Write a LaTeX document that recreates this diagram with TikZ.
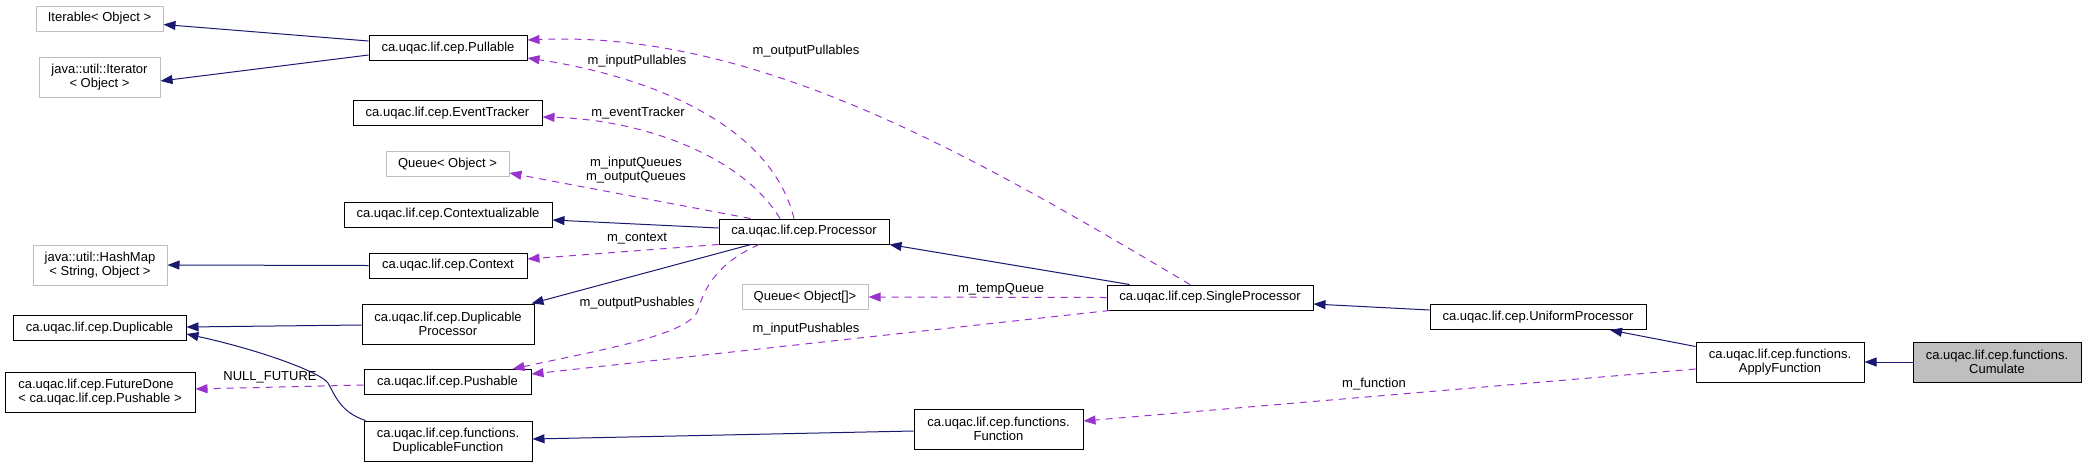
\documentclass[tikz,border=0pt]{standalone}
\usepackage{fontspec}
\setmainfont{Liberation Sans}
\usetikzlibrary{arrows.meta,calc}

\definecolor{edgeblue}{HTML}{191970}
\definecolor{edgepurple}{HTML}{9A32CD}
\definecolor{boxgray}{HTML}{BFBFBF}

\tikzset{
  cls/.style={draw=black, line width=1pt, inner sep=0pt, align=center,
    font=\fontsize{13}{14}\selectfont},
  ext/.style={cls, draw=boxgray},
  cur/.style={cls, fill=boxgray},
  sz/.style 2 args={minimum width=#1pt, minimum height=#2pt},
  lbl/.style={inner sep=0pt, align=center, font=\fontsize{13}{13.5}\selectfont},
  inh/.style={->, draw=edgeblue, line width=1pt},
  use/.style={->, draw=edgepurple, line width=1pt, dash pattern=on 7pt off 6pt}
}

\begin{document}
\begin{tikzpicture}[x=1pt, y=-1pt, >={Triangle[length=12pt,width=9pt]}]
\useasboundingbox (0,0) rectangle (2087,467);

% left column
\node[ext,sz={127}{25}] (Iterable)   at (99.5,18.5) {Iterable< Object >};
\node[ext,sz={121}{40}] (Iterator)   at (99.5,77)   {java::util::Iterator\\< Object >};
\node[ext,sz={134}{40}] (HashMap)    at (100,265)   {java::util::HashMap\\< String, Object >};
\node[cls,sz={173}{25}] (Duplicable) at (99.5,328)  {ca.uqac.lif.cep.Duplicable};
\node[cls,sz={190}{40},align=left] (FutureDone) at (100,392) {ca.uqac.lif.cep.FutureDone\\< ca.uqac.lif.cep.Pushable >};

% second column
\node[cls,sz={158}{25}] (Pullable)         at (448,48)    {ca.uqac.lif.cep.Pullable};
\node[cls,sz={189}{25}] (EventTracker)     at (447.5,113) {ca.uqac.lif.cep.EventTracker};
\node[ext,sz={123}{25}] (QueueObj)         at (447.5,164) {Queue< Object >};
\node[cls,sz={208}{25}] (Contextualizable) at (448,214.5) {ca.uqac.lif.cep.Contextualizable};
\node[cls,sz={158}{25}] (Context)          at (448,265.5) {ca.uqac.lif.cep.Context};
\node[cls,sz={172}{40}] (DupProc)          at (448,324)   {ca.uqac.lif.cep.Duplicable\\Processor};
\node[cls,sz={167}{25}] (Pushable)         at (447.5,382) {ca.uqac.lif.cep.Pushable};
\node[cls,sz={168}{40}] (DupFunc)          at (448,441)   {ca.uqac.lif.cep.functions.\\DuplicableFunction};

% right part
\node[cls,sz={170}{25}] (Processor)        at (804,231.5)  {ca.uqac.lif.cep.Processor};
\node[ext,sz={126}{25}] (QueueArr)         at (805,297)    {Queue< Object[]>};
\node[cls,sz={206}{25}] (SingleProcessor)  at (1210,297.5) {ca.uqac.lif.cep.SingleProcessor};
\node[cls,sz={169}{40}] (Function)         at (998.5,429)  {ca.uqac.lif.cep.functions.\\Function};
\node[cls,sz={216}{25}] (UniformProcessor) at (1538,317)   {ca.uqac.lif.cep.UniformProcessor};
\node[cls,sz={168}{40}] (ApplyFunction)    at (1780,362)   {ca.uqac.lif.cep.functions.\\ApplyFunction};
\node[cur,sz={168}{40}] (Cumulate)         at (1997,362)   {ca.uqac.lif.cep.functions.\\Cumulate};

% inheritance
\draw[inh] ($(Pullable.west)+(0,-7)$) -- ($(Iterable.east)+(0,6)$);
\draw[inh] ($(Pullable.west)+(0,7)$) -- ($(Iterator.east)+(0,4)$);
\draw[inh] ($(Processor.west)+(0,-3.5)$) -- ($(Contextualizable.east)+(0,5.5)$);
\draw[inh] (Context.west) -- (HashMap.east);
\draw[inh] ($(DupProc.west)+(0,1)$) -- ($(Duplicable.east)+(0,-1)$);
\draw[inh] ($(DupFunc.north west)+(2,0)$) .. controls (340,412) and (335,395) .. (328,383)
  .. controls (320,372) and (260,350) .. ($(Duplicable.east)+(0,6)$);
\draw[inh] ($(Processor.south)+(-53,0)$) -- ($(DupProc.north east)+(-3,0)$);
\draw[inh] ($(SingleProcessor.north west)+(23,0)$) -- (Processor.south east);
\draw[inh] ($(UniformProcessor.west)+(0,-7)$) -- ($(SingleProcessor.east)+(0,6.5)$);
\draw[inh] ($(ApplyFunction.north west)+(0,5)$) -- ($(UniformProcessor.south)+(72,0)$);
\draw[inh] (Cumulate.west) -- (ApplyFunction.east);
\draw[inh] ($(Function.west)+(0,2)$) -- ($(DupFunc.east)+(0,-2)$);

% usage
\draw[use] ($(Processor.north)+(-10,0)$) .. controls (770,120) and (640,75) .. ($(Pullable.south east)+(0,-3)$);
\draw[use] ($(SingleProcessor.north)+(-20,0)$) .. controls (980,160) and (760,30) .. ($(Pullable.east)+(0,-8)$);
\draw[use] ($(Processor.north)+(-24,0)$) .. controls (745,160) and (650,120) .. ($(EventTracker.east)+(0,4)$);
\draw[use] ($(Processor.north west)+(32,0)$) -- ($(QueueObj.east)+(0,9)$);
\draw[use] (Processor.south west) -- ($(Context.east)+(0,-6.5)$);
\draw[use] ($(Processor.south)+(-45,0)$) .. controls (720,262) and (705,285) .. (698,310)
  .. controls (690,335) and (600,350) .. ($(Pushable.north east)+(-19,0)$);
\draw[use] ($(SingleProcessor.south west)+(3,0)$) -- ($(Pushable.east)+(0,-8)$);
\draw[use] (SingleProcessor.west) -- (QueueArr.east);
\draw[use] ($(Pushable.west)+(0,3)$) -- ($(FutureDone.east)+(0,-3)$);
\draw[use] ($(ApplyFunction.west)+(0,7)$) -- ($(Function.east)+(0,-8)$);

% labels
\node[lbl] (lInPull)  at (637,61)   {m\_inputPullables};
\node[lbl] (lOutPull) at (806,51)   {m\_outputPullables};
\node[lbl] (lEvent)   at (638,113)  {m\_eventTracker};
\node[lbl] (lQueues)  at (636,170)  {m\_inputQueues\\m\_outputQueues};
\node[lbl] (lContext) at (637,239)  {m\_context};
\node[lbl] (lOutPush) at (637,303)  {m\_outputPushables};
\node[lbl] (lInPush)  at (806,329)  {m\_inputPushables};
\node[lbl] (lTemp)    at (1001,289) {m\_tempQueue};
\node[lbl] (lNull)    at (270,377)  {NULL\_FUTURE};
\node[lbl] (lFunc)    at (1374,384) {m\_function};
\end{tikzpicture}
\end{document}
